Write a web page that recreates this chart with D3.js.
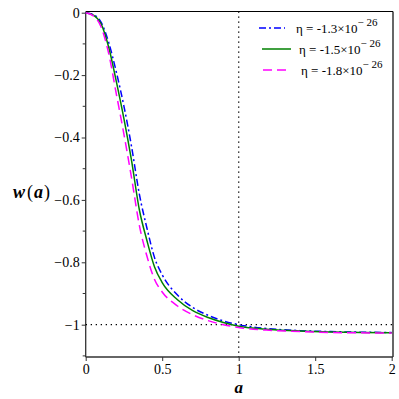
<!DOCTYPE html>
<html lang="en">
<head>
<meta charset="UTF-8">
<title>w(a)</title>
<style>
    body { margin: 0; background: #fff; }
    svg { display: block; }
</style>
</head>
<body>
<svg id="chart" width="399" height="399"></svg>
<script src="https://d3js.org/d3.v7.min.js"></script>
<script>
    // scale factor a
    const aValues = [0, 0.05, 0.1, 0.15, 0.2, 0.25, 0.3, 0.35, 0.4, 0.45, 0.5, 0.6, 0.7, 0.8, 0.9, 1.0, 1.2, 1.4, 1.6, 1.8, 2.0];
    // w(a) for each eta
    const wEta13 = [0, -0.006, -0.03, -0.095, -0.19, -0.30, -0.43, -0.58, -0.69, -0.785, -0.84, -0.905, -0.945, -0.97, -0.988, -1.0, -1.013, -1.019, -1.022, -1.024, -1.025];
    const wEta15 = [0, -0.008, -0.035, -0.11, -0.22, -0.34, -0.475, -0.63, -0.73, -0.815, -0.865, -0.92, -0.955, -0.977, -0.993, -1.005, -1.015, -1.02, -1.023, -1.025, -1.026];
    const wEta18 = [0, -0.01, -0.045, -0.13, -0.26, -0.39, -0.53, -0.68, -0.78, -0.855, -0.895, -0.94, -0.968, -0.987, -1.0, -1.009, -1.018, -1.022, -1.025, -1.026, -1.027];
    const etaLabels = ['-1.3', '-1.5', '-1.8'];
    const xTicks = [0, 0.5, 1, 1.5, 2];
    const yTicks = [0, -0.2, -0.4, -0.6, -0.8, -1];
    const yMinorTicks = [-0.1, -0.3, -0.5, -0.7, -0.9, -1.1];

    const series = [
        { w: wEta13, eta: etaLabels[0], color: '#0000ff', dash: '7,3,2,3' },
        { w: wEta15, eta: etaLabels[1], color: '#008000', dash: null },
        { w: wEta18, eta: etaLabels[2], color: '#ff00ff', dash: '9,5' }
    ];

    const FONT = '"Liberation Serif", "Times New Roman", serif';
    const svg = d3.select('#chart');
    const mLeft = 85.7, mRight = 393, mTop = 12.7, mBottom = 357;

    const x = d3.scaleLinear().domain([0, 2]).range([mLeft, 391.7]);
    const y = d3.scaleLinear().domain([0, -1.1]).range([mTop, 355.9]);

    // frame (top and right)
    svg.append('line').attr('x1', mLeft).attr('x2', mRight).attr('y1', 11.5).attr('y2', 11.5)
        .attr('stroke', '#000').attr('stroke-width', 1.2);
    svg.append('line').attr('x1', mRight).attr('x2', mRight).attr('y1', 11.5).attr('y2', mBottom)
        .attr('stroke', '#000').attr('stroke-width', 1.2);

    // x axis
    const xAxis = svg.append('g').attr('transform', `translate(0,${mBottom})`)
        .call(d3.axisBottom(x).tickValues(xTicks).tickSize(4).tickPadding(3)
            .tickFormat(d => d3.format('')(d)));
    xAxis.attr('font-family', FONT);
    xAxis.select('.domain').attr('stroke', '#333').attr('stroke-width', 1.3)
        .attr('d', `M${mLeft},0H${mRight}`);
    xAxis.selectAll('.tick line').attr('stroke', '#333');
    xAxis.selectAll('text').style('font-family', FONT).style('font-size', '14px');

    // y axis
    const yAxis = svg.append('g').attr('transform', `translate(${mLeft},0)`)
        .call(d3.axisLeft(y).tickValues(yTicks).tickSize(4).tickPadding(2)
            .tickFormat(d => d === 0 ? '0' : d3.format('')(d).replace('-', '\u2212')));
    yAxis.attr('font-family', FONT);
    yAxis.select('.domain').attr('stroke', '#333').attr('stroke-width', 1.3)
        .attr('d', `M0,${mTop - 1}V${mBottom}`);
    yAxis.selectAll('.tick line').attr('stroke', '#333');
    yAxis.selectAll('text').style('font-family', FONT).style('font-size', '14px');

    svg.append('g').selectAll('line').data(yMinorTicks).join('line')
        .attr('x1', mLeft - 3).attr('x2', mLeft).attr('y1', d => y(d)).attr('y2', d => y(d))
        .attr('stroke', '#333');

    // reference dotted lines
    svg.append('line').attr('x1', mLeft).attr('x2', mRight).attr('y1', y(-1)).attr('y2', y(-1))
        .attr('stroke', '#000').attr('stroke-width', 1.3).attr('stroke-dasharray', '1.3,3.7');
    svg.append('line').attr('x1', x(1)).attr('x2', x(1)).attr('y1', 11.5).attr('y2', mBottom)
        .attr('stroke', '#000').attr('stroke-width', 1.3).attr('stroke-dasharray', '1.3,3.7');

    // curves
    const line = d3.line()
        .x((d, i) => x(aValues[i]))
        .y(d => y(d))
        .curve(d3.curveMonotoneX);

    svg.append('g').selectAll('path').data(series).join('path')
        .attr('d', d => line(d.w))
        .attr('fill', 'none')
        .attr('stroke', d => d.color)
        .attr('stroke-width', 1.5)
        .attr('stroke-dasharray', d => d.dash);

    // legend
    const legend = svg.append('g');
    const legendRows = [
        { x1: 259, x2: 285, y: 28, tx: 296 },
        { x1: 262, x2: 291, y: 49, tx: 299 },
        { x1: 263, x2: 290, y: 70, tx: 301 }
    ];
    series.forEach((s, i) => {
        const r = legendRows[i];
        legend.append('line').attr('x1', r.x1).attr('x2', r.x2).attr('y1', r.y).attr('y2', r.y)
            .attr('stroke', s.color).attr('stroke-width', 1.5).attr('stroke-dasharray', s.dash);
        const t = legend.append('text').attr('x', r.tx).attr('y', r.y + 5)
            .style('font-family', FONT).style('font-size', '13px');
        t.append('tspan').text(`\u03b7 = ${s.eta}\u00d710`);
        t.append('tspan').attr('dy', -7).style('font-size', '11px').text('\u2212 26');
    });

    // axis titles
    const wt = svg.append('text').attr('x', 13).attr('y', 198)
        .style('font-family', FONT).style('font-size', '18px');
    wt.append('tspan').style('font-weight', 'bold').style('font-style', 'italic').text('w');
    wt.append('tspan').attr('dx', 2).text('(');
    wt.append('tspan').attr('dx', 1).style('font-weight', 'bold').style('font-style', 'italic').text('a');
    wt.append('tspan').attr('dx', 1).text(')');

    svg.append('text').attr('x', x(1)).attr('y', 393).attr('text-anchor', 'middle')
        .style('font-family', FONT).style('font-size', '17px')
        .style('font-weight', 'bold').style('font-style', 'italic').text('a');
</script>
</body>
</html>
